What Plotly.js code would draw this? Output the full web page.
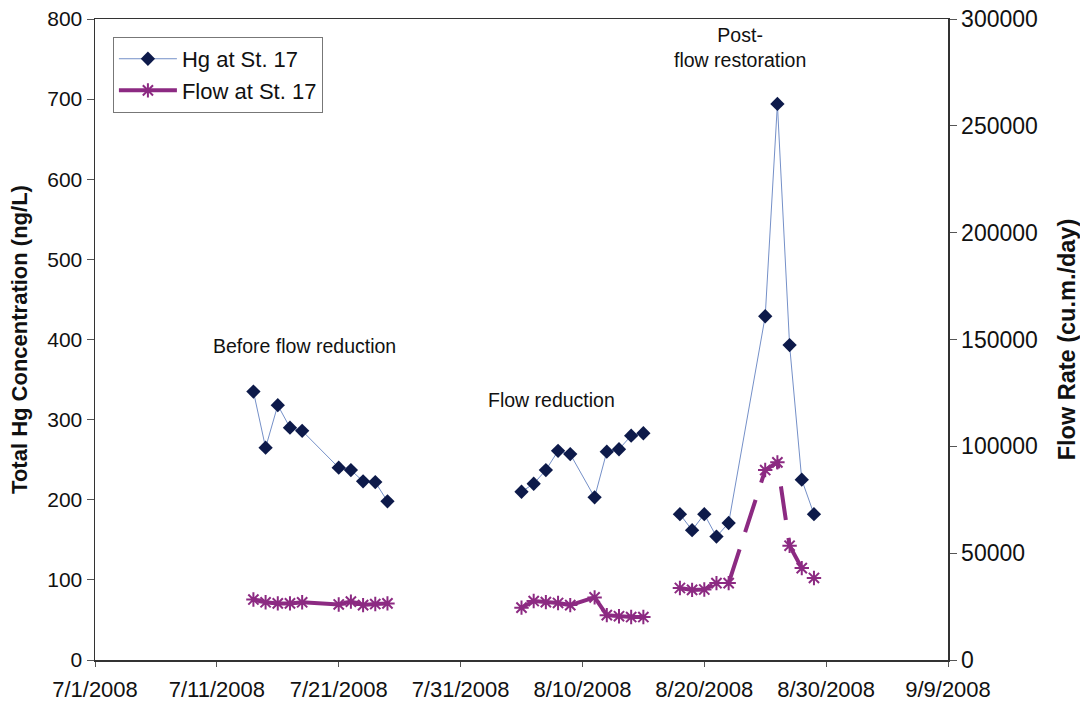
<!DOCTYPE html>
<html>
<head>
<meta charset="utf-8">
<script src="https://cdn.plot.ly/plotly-3.0.1.min.js"></script>
<style>html,body{margin:0;padding:0;background:#fff;}#chart{width:1080px;height:708px;}</style>
</head>
<body>
<div id="chart"></div>
<script>
// Sampling dates (null rows mark the breaks between the three periods)
const dates = [
  '2008-07-14','2008-07-15','2008-07-16','2008-07-17','2008-07-18',
  '2008-07-21','2008-07-22','2008-07-23','2008-07-24','2008-07-25',
  '2008-07-30',
  '2008-08-05','2008-08-06','2008-08-07','2008-08-08','2008-08-09',
  '2008-08-11','2008-08-12','2008-08-13','2008-08-14','2008-08-15',
  '2008-08-16',
  '2008-08-18','2008-08-19','2008-08-20','2008-08-21','2008-08-22',
  '2008-08-25','2008-08-26','2008-08-27','2008-08-28','2008-08-29'
];
// Total Hg concentration (ng/L)
const hgValues = [
  335, 265, 318, 290, 286,
  240, 237, 223, 222, 198,
  null,
  210, 220, 237, 261, 257,
  203, 260, 263, 280, 283,
  null,
  182, 162, 182, 154, 171,
  429, 694, 393, 225, 182
];
// Flow rate (cu.m./day)
const flowValues = [
  28300, 27000, 26500, 26500, 27000,
  26000, 27300, 25700, 26200, 26500,
  null,
  24500, 27600, 27100, 26700, 25700,
  29300, 21000, 20500, 20100, 20100,
  null,
  33700, 32800, 33000, 36000, 36000,
  88900, 92500, 53500, 43000, 38400
];
const periodLabels = ['Before flow reduction', 'Flow reduction', 'Post-<br>flow restoration'];
const periodLabelX = ['2008-07-18 05:00', '2008-08-07 12:00', '2008-08-22 22:00'];
const periodLabelY = [392, 325, 765];
const tickDates = ['2008-07-01','2008-07-11','2008-07-21','2008-07-31','2008-08-10','2008-08-20','2008-08-30','2008-09-09'];
const tickLabels = ['7/1/2008','7/11/2008','7/21/2008','7/31/2008','8/10/2008','8/20/2008','8/30/2008','9/9/2008'];

const restoreStart = '2008-08-17';
const flowEarly = flowValues.map((v, i) => dates[i] < restoreStart ? v : null);
const flowLate = flowValues.map((v, i) => dates[i] >= restoreStart ? v : null);

const FONT = 'Liberation Sans, Arial, sans-serif';
const PURPLE = '#8c2a82';

const traces = [
  {
    x: dates, y: hgValues, name: 'Hg at St. 17', type: 'scatter', mode: 'lines+markers',
    connectgaps: false,
    line: {color: '#7590c8', width: 1},
    marker: {symbol: 'diamond', size: 11, color: '#0d1a4a'}
  },
  {
    x: dates, y: flowEarly, name: 'Flow at St. 17', type: 'scatter', mode: 'lines+markers',
    yaxis: 'y2', connectgaps: false,
    line: {color: PURPLE, width: 4},
    marker: {symbol: 'asterisk-open', size: 12, color: PURPLE, line: {color: PURPLE, width: 2}}
  },
  {
    x: dates, y: flowLate, name: 'Flow at St. 17', type: 'scatter', mode: 'lines+markers',
    yaxis: 'y2', connectgaps: false, showlegend: false,
    line: {color: PURPLE, width: 4, dash: '34px,18px'},
    marker: {symbol: 'asterisk-open', size: 12, color: PURPLE, line: {color: PURPLE, width: 2}}
  }
];

const layout = {
  width: 1080, height: 708,
  margin: {l: 95, r: 132, t: 19, b: 48},
  paper_bgcolor: '#ffffff', plot_bgcolor: '#ffffff',
  font: {family: FONT, size: 17, color: '#111'},
  showlegend: true,
  legend: {
    x: 0.021, y: 0.972, xanchor: 'left', yanchor: 'top',
    bgcolor: '#ffffff', bordercolor: '#777', borderwidth: 1,
    font: {family: FONT, size: 22, color: '#111'},
    tracegroupgap: 0, itemwidth: 58
  },
  xaxis: {
    type: 'date', range: ['2008-07-01', '2008-09-09'],
    tickmode: 'array', tickvals: tickDates, ticktext: tickLabels,
    showgrid: false, zeroline: false,
    showline: true, linecolor: '#333', linewidth: 1.5, mirror: true,
    ticks: 'outside', ticklen: 5, tickcolor: '#555',
    ticklabelstandoff: 4,
    tickfont: {family: FONT, size: 22, color: '#111'}
  },
  yaxis: {
    range: [0, 800], dtick: 100, tick0: 0,
    showgrid: false, zeroline: false,
    showline: true, linecolor: '#333', linewidth: 1.5,
    ticks: 'outside', ticklen: 7, tickcolor: '#555',
    tickfont: {family: FONT, size: 21, color: '#111'},
    title: {text: 'Total Hg Concentration (ng/L)', font: {family: FONT, size: 22, color: '#111', weight: 'bold'}, standoff: 13}
  },
  yaxis2: {
    range: [0, 300000], dtick: 50000, tick0: 0, overlaying: 'y', side: 'right',
    tickformat: 'd',
    showgrid: false, zeroline: false,
    showline: true, linecolor: '#333', linewidth: 1.5,
    ticks: 'outside', ticklen: 7, tickcolor: '#555',
    tickfont: {family: FONT, size: 23, color: '#111'},
    title: {text: 'Flow Rate (cu.m./day)', font: {family: FONT, size: 23.5, color: '#111', weight: 'bold'}, standoff: 29}
  },
  annotations: periodLabels.map((t, i) => ({
    x: periodLabelX[i], y: periodLabelY[i], xref: 'x', yref: 'y', text: t,
    showarrow: false, xanchor: 'center', yanchor: 'middle',
    font: {family: FONT, size: 19.5, color: '#111'}
  }))
};

Plotly.newPlot('chart', traces, layout, {displayModeBar: false, staticPlot: true});
</script>
</body>
</html>
